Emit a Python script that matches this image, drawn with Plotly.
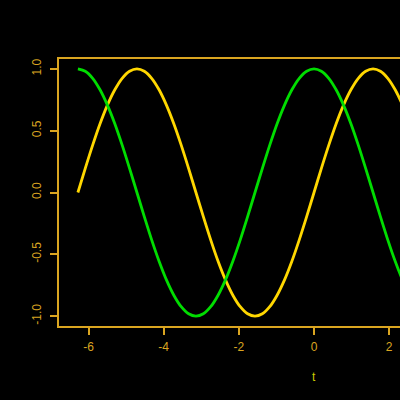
import plotly.graph_objects as go

t = [-6.283, -6.087, -5.890, -5.694, -5.498, -5.301, -5.105, -4.909, -4.712,
     -4.516, -4.320, -4.123, -3.927, -3.731, -3.534, -3.338, -3.142,
     -2.945, -2.749, -2.553, -2.356, -2.160, -1.963, -1.767, -1.571,
     -1.374, -1.178, -0.982, -0.785, -0.589, -0.393, -0.196, 0.0,
     0.196, 0.393, 0.589, 0.785, 0.982, 1.178, 1.374, 1.571,
     1.767, 1.963, 2.160, 2.356, 2.553, 2.749, 2.945, 3.142,
     3.338, 3.534, 3.731, 3.927, 4.123, 4.320, 4.516, 4.712,
     4.909, 5.105, 5.301, 5.498, 5.694, 5.890, 6.087, 6.283]
sin_t = [0.0, 0.195, 0.383, 0.556, 0.707, 0.831, 0.924, 0.981, 1.0,
         0.981, 0.924, 0.831, 0.707, 0.556, 0.383, 0.195, 0.0,
         -0.195, -0.383, -0.556, -0.707, -0.831, -0.924, -0.981, -1.0,
         -0.981, -0.924, -0.831, -0.707, -0.556, -0.383, -0.195, 0.0,
         0.195, 0.383, 0.556, 0.707, 0.831, 0.924, 0.981, 1.0,
         0.981, 0.924, 0.831, 0.707, 0.556, 0.383, 0.195, 0.0,
         -0.195, -0.383, -0.556, -0.707, -0.831, -0.924, -0.981, -1.0,
         -0.981, -0.924, -0.831, -0.707, -0.556, -0.383, -0.195, 0.0]
cos_t = [1.0, 0.981, 0.924, 0.831, 0.707, 0.556, 0.383, 0.195, 0.0,
         -0.195, -0.383, -0.556, -0.707, -0.831, -0.924, -0.981, -1.0,
         -0.981, -0.924, -0.831, -0.707, -0.556, -0.383, -0.195, 0.0,
         0.195, 0.383, 0.556, 0.707, 0.831, 0.924, 0.981, 1.0,
         0.981, 0.924, 0.831, 0.707, 0.556, 0.383, 0.195, 0.0,
         -0.195, -0.383, -0.556, -0.707, -0.831, -0.924, -0.981, -1.0,
         -0.981, -0.924, -0.831, -0.707, -0.556, -0.383, -0.195, 0.0,
         0.195, 0.383, 0.556, 0.707, 0.831, 0.924, 0.981, 1.0]

x_ticks = [-6, -4, -2, 0, 2, 4, 6]
x_ticktext = ["-6", "-4", "-2", "0", "2", "4", "6"]
y_ticks = [-1.0, -0.5, 0.0, 0.5, 1.0]
y_ticktext = ["-1.0", "-0.5", "0.0", "0.5", "1.0"]

axis_col = "#DAA520"
font = "Liberation Sans, Arial, sans-serif"

fig = go.Figure()
fig.add_trace(go.Scatter(x=t, y=sin_t, mode="lines",
                         line=dict(color="#FFD700", width=2.8, shape="spline", smoothing=0.8),
                         showlegend=False))
fig.add_trace(go.Scatter(x=t, y=cos_t, mode="lines",
                         line=dict(color="#00DD00", width=2.8, shape="spline", smoothing=0.8),
                         showlegend=False))

fig.update_layout(
    width=400, height=400,
    margin=dict(l=59, r=0, t=59, b=74),
    paper_bgcolor="black", plot_bgcolor="black",
    font=dict(family=font, size=12, color=axis_col),
    xaxis=dict(range=[-6.786, 2.288], tickvals=x_ticks, ticktext=x_ticktext,
               showgrid=False, zeroline=False, showline=True, linecolor=axis_col,
               linewidth=1.5, mirror=True, ticks="outside", ticklen=7, tickcolor=axis_col,
               tickwidth=1.5, tickfont=dict(color=axis_col, size=12),
               ticklabelstandoff=2),
    yaxis=dict(range=[-1.08, 1.08], tickvals=y_ticks, ticktext=y_ticktext,
               showgrid=False, zeroline=False, showline=True, linecolor=axis_col,
               linewidth=1.5, ticks="outside", ticklen=7, tickcolor=axis_col,
               tickwidth=1.5, tickangle=-90, tickfont=dict(color=axis_col, size=12),
               ticklabelstandoff=4),
    annotations=[dict(x=0, xref="x", y=-0.19, yref="paper", text="t", showarrow=False,
                      font=dict(family=font, size=12, color="#CDCD00"),
                      xanchor="center", yanchor="middle")],
)

fig.write_html("out.html", config={"displayModeBar": False},
               post_script="document.body.style.margin='0';document.body.style.background='black';"
                           "document.documentElement.style.overflow='hidden';")
